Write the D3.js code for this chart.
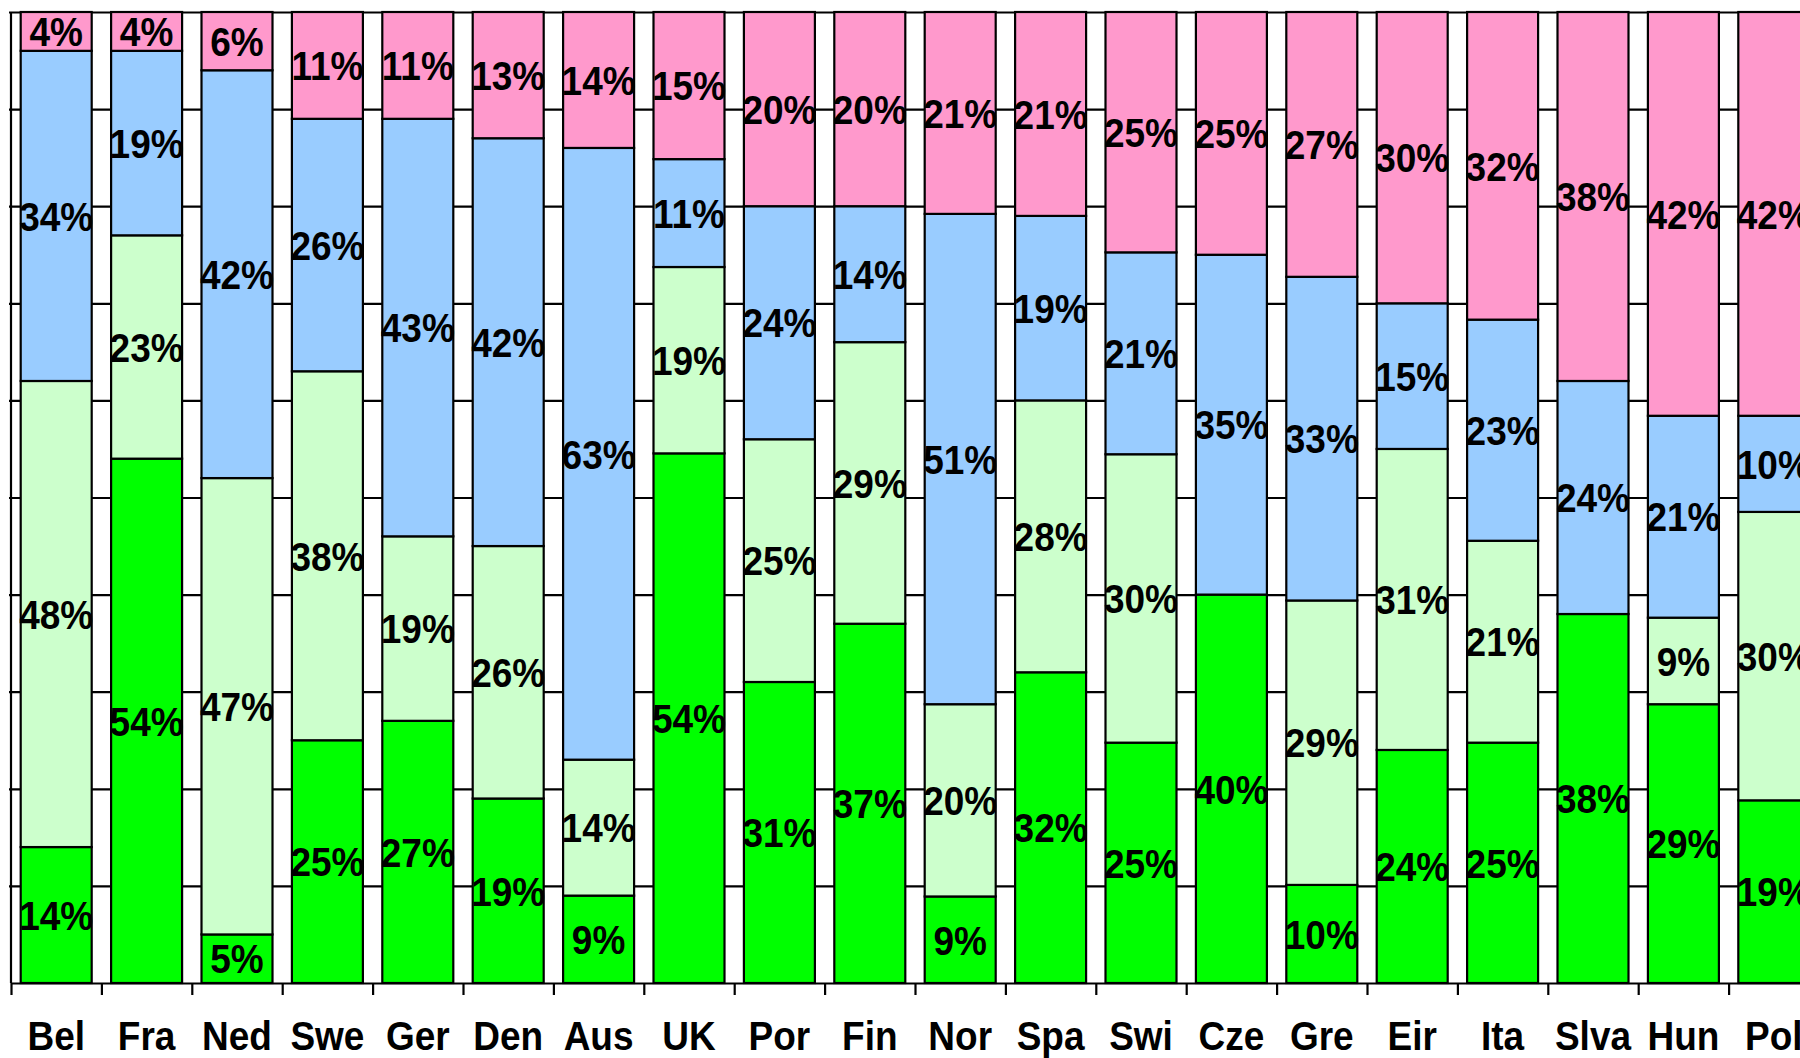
<!DOCTYPE html>
<html>
<head>
<meta charset="utf-8">
<script src="https://cdn.jsdelivr.net/npm/d3@7"></script>
<style>
  html, body { margin: 0; padding: 0; background: #fff; overflow: hidden; }
  svg { display: block; }
  text { font-family: "Liberation Sans", Arial, sans-serif; font-weight: bold; fill: #000; }
</style>
</head>
<body>
<svg id="chart" width="1800" height="1058"></svg>
<script>
// Country groups along the x axis
const categories = ["Bel","Fra","Ned","Swe","Ger","Den","Aus","UK","Por","Fin",
                    "Nor","Spa","Swi","Cze","Gre","Eir","Ita","Slva","Hun","Pol"];

// Shares per country (%), stacked bottom to top
const seriesGreen      = [14,54, 5,25,27,19, 9,54,31,37, 9,32,25,40,10,24,25,38,29,19];
const seriesLightGreen = [48,23,47,38,19,26,14,19,25,29,20,28,30, 0,29,31,21, 0, 9,30];
const seriesBlue       = [34,19,42,26,43,42,63,11,24,14,51,19,21,35,33,15,23,24,21,10];
const seriesPink       = [ 4, 4, 6,11,11,13,14,15,20,20,21,21,25,25,27,30,32,38,42,42];

// Gridlines every 10 %
const yTicks = [0.1,0.2,0.3,0.4,0.5,0.6,0.7,0.8,0.9,1.0];

const seriesKeys = ["green","lightGreen","blue","pink"];
const seriesColors = ["#00FF00","#CCFFCC","#99CCFF","#FF99CC"];

const rows = categories.map((c, i) => ({
  cat: c,
  green: seriesGreen[i],
  lightGreen: seriesLightGreen[i],
  blue: seriesBlue[i],
  pink: seriesPink[i]
}));

const svg = d3.select("#chart");

const plotLeft = 11, plotTop = 12, plotBottom = 983;
const step = 90.4;
const plotRight = plotLeft + step * categories.length;
const textStretch = 1.12;  // tall, narrow lettering

const x = d3.scaleBand()
  .domain(categories)
  .range([plotLeft, plotRight])
  .paddingInner(0.2146)
  .paddingOuter(0.1073);

const y = d3.scaleLinear().domain([0, 1]).range([plotBottom, plotTop]);

const color = d3.scaleOrdinal().domain(seriesKeys).range(seriesColors);

// 100 % stacked layout
const stacked = d3.stack()
  .keys(seriesKeys)
  .offset(d3.stackOffsetExpand)(rows);

// Horizontal gridlines
svg.append("g")
  .attr("transform", `translate(${plotLeft},0)`)
  .call(d3.axisLeft(y).tickValues(yTicks).tickSize(-(plotRight - plotLeft)).tickSizeOuter(0).tickFormat(""))
  .call(g => g.select(".domain").remove())
  .call(g => g.selectAll(".tick line")
    .attr("x1", -2)
    .attr("stroke", "#000")
    .attr("stroke-width", 2.2));

// Left axis line
svg.append("line")
  .attr("x1", plotLeft).attr("x2", plotLeft)
  .attr("y1", plotTop).attr("y2", plotBottom)
  .attr("stroke", "#000").attr("stroke-width", 2.2);

// Stacked bars
const layers = svg.append("g").selectAll("g")
  .data(stacked)
  .join("g")
  .attr("fill", d => color(d.key));

layers.selectAll("rect")
  .data(d => d.filter(s => s[1] - s[0] > 0))
  .join("rect")
  .attr("x", d => x(d.data.cat))
  .attr("width", x.bandwidth())
  .attr("y", d => y(d[1]))
  .attr("height", d => y(d[0]) - y(d[1]))
  .attr("stroke", "#000")
  .attr("stroke-width", 2.2);

// Value labels centred in each segment
const labels = svg.append("g");
stacked.forEach(layer => {
  layer.forEach(seg => {
    const v = seg.data[layer.key];
    if (!v) return;
    const cx = x(seg.data.cat) + x.bandwidth() / 2;
    const cy = y((seg[0] + seg[1]) / 2);
    labels.append("text")
      .attr("transform", `translate(${cx},${cy}) scale(1,${textStretch})`)
      .attr("text-anchor", "middle")
      .attr("dominant-baseline", "central")
      .attr("font-size", 37)
      .text(v + "%");
  });
});

// Bottom axis with ticks between categories
const boundaries = d3.range(categories.length + 1);
const bx = d3.scaleLinear().domain([0, categories.length]).range([plotLeft, plotRight]);
svg.append("g")
  .attr("transform", `translate(0,${plotBottom})`)
  .call(d3.axisBottom(bx).tickValues(boundaries).tickSize(12).tickSizeOuter(0).tickFormat(""))
  .call(g => g.select(".domain").attr("stroke", "#000").attr("stroke-width", 2.2))
  .call(g => g.selectAll(".tick line").attr("stroke", "#000").attr("stroke-width", 2.2));

// Category names
svg.append("g").selectAll("text")
  .data(categories)
  .join("text")
  .attr("transform", d => `translate(${x(d) + x.bandwidth() / 2},1050) scale(1,${textStretch})`)
  .attr("text-anchor", "middle")
  .attr("font-size", 37)
  .text(d => d);
</script>
</body>
</html>
